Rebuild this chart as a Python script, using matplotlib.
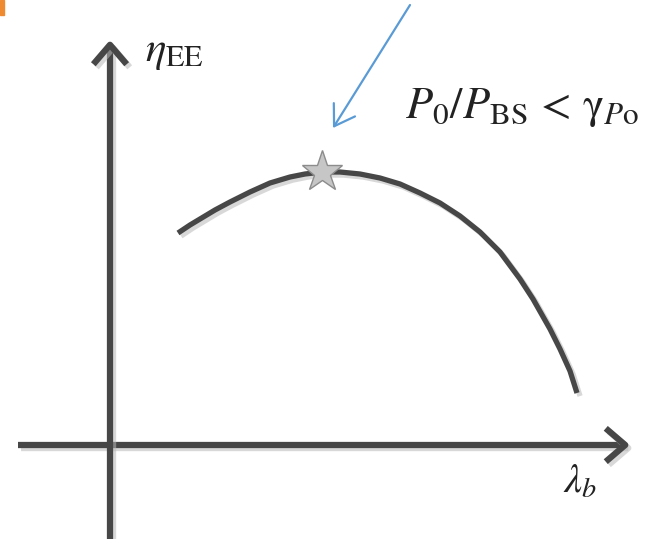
import matplotlib.pyplot as plt
import matplotlib.patheffects as pe
import numpy as np

plt.rcParams['mathtext.fontset'] = 'stix'
plt.rcParams['font.family'] = ['STIXGeneral', 'DejaVu Serif']

# curve (lambda_b, eta_EE), arbitrary units
lam = [0.68, 0.80, 0.90, 1.05, 1.20, 1.40, 1.60, 1.80, 1.95, 2.12,
       2.30, 2.50, 2.70, 2.90, 3.10, 3.30, 3.50, 3.70, 3.90, 4.10,
       4.23, 4.40, 4.50, 4.60, 4.67]
eta = [2.12, 2.20, 2.26, 2.35, 2.43, 2.53, 2.62, 2.68, 2.71, 2.73,
       2.73, 2.71, 2.67, 2.61, 2.52, 2.42, 2.29, 2.13, 1.93, 1.66,
       1.46, 1.16, 0.96, 0.74, 0.52]

dark = '#474747'
shadow = [pe.SimpleLineShadow(offset=(2.2, -2.2), shadow_color='#b8b8b8', alpha=0.55),
          pe.Normal()]

fig = plt.figure(figsize=(6.55, 5.39), dpi=100)
ax = fig.add_axes([0, 0, 1, 1])
ax.set_xlim(-1.10, 5.45)
ax.set_ylim(-0.94, 4.45)
ax.axis('off')

# axes as arrows
arr = dict(arrowstyle='->,head_length=0.7,head_width=0.6', lw=4.5, color=dark,
           mutation_scale=20, shrinkA=0, shrinkB=0, capstyle='butt',
           path_effects=shadow)
ax.annotate('', xy=(5.20, 0), xytext=(-0.92, 0), arrowprops=arr)
ax.annotate('', xy=(0, 4.05), xytext=(0, -0.97), arrowprops=arr)

# energy efficiency curve
ax.plot(lam, eta, color=dark, lw=3.8, solid_capstyle='butt',
        solid_joinstyle='round', path_effects=shadow)

# optimum
k = int(np.argmax(eta))
ax.plot(lam[k], eta[k], marker='*', ms=31, mfc='#c6c6c6', mec='#8c8c8c', mew=1.0)

# pointer
ax.annotate('', xy=(2.23, 3.17), xytext=(3.00, 4.40),
            arrowprops=dict(arrowstyle='->,head_length=0.7,head_width=0.45',
                            lw=1.6, color='#5b9bd5', mutation_scale=20,
                            shrinkA=0, shrinkB=0))

ax.text(0.35, 3.84, r'$\eta_{\mathrm{EE}}$', fontsize=31, color='#222222')
ax.text(2.95, 3.27, r'$P_0/P_{\mathrm{BS}}$ < $\mathrm{\gamma}_{P\mathrm{o}}$',
        fontsize=32, color='#222222')
ax.text(4.53, -0.48, r'$\lambda_b$', fontsize=29, color='#222222')

# small orange mark in the corner
fig.patches.append(plt.Rectangle((0, 0.972), 0.006, 0.028, transform=fig.transFigure,
                                 color='#f08a30', figure=fig))

fig.savefig('out.png', dpi=100)
